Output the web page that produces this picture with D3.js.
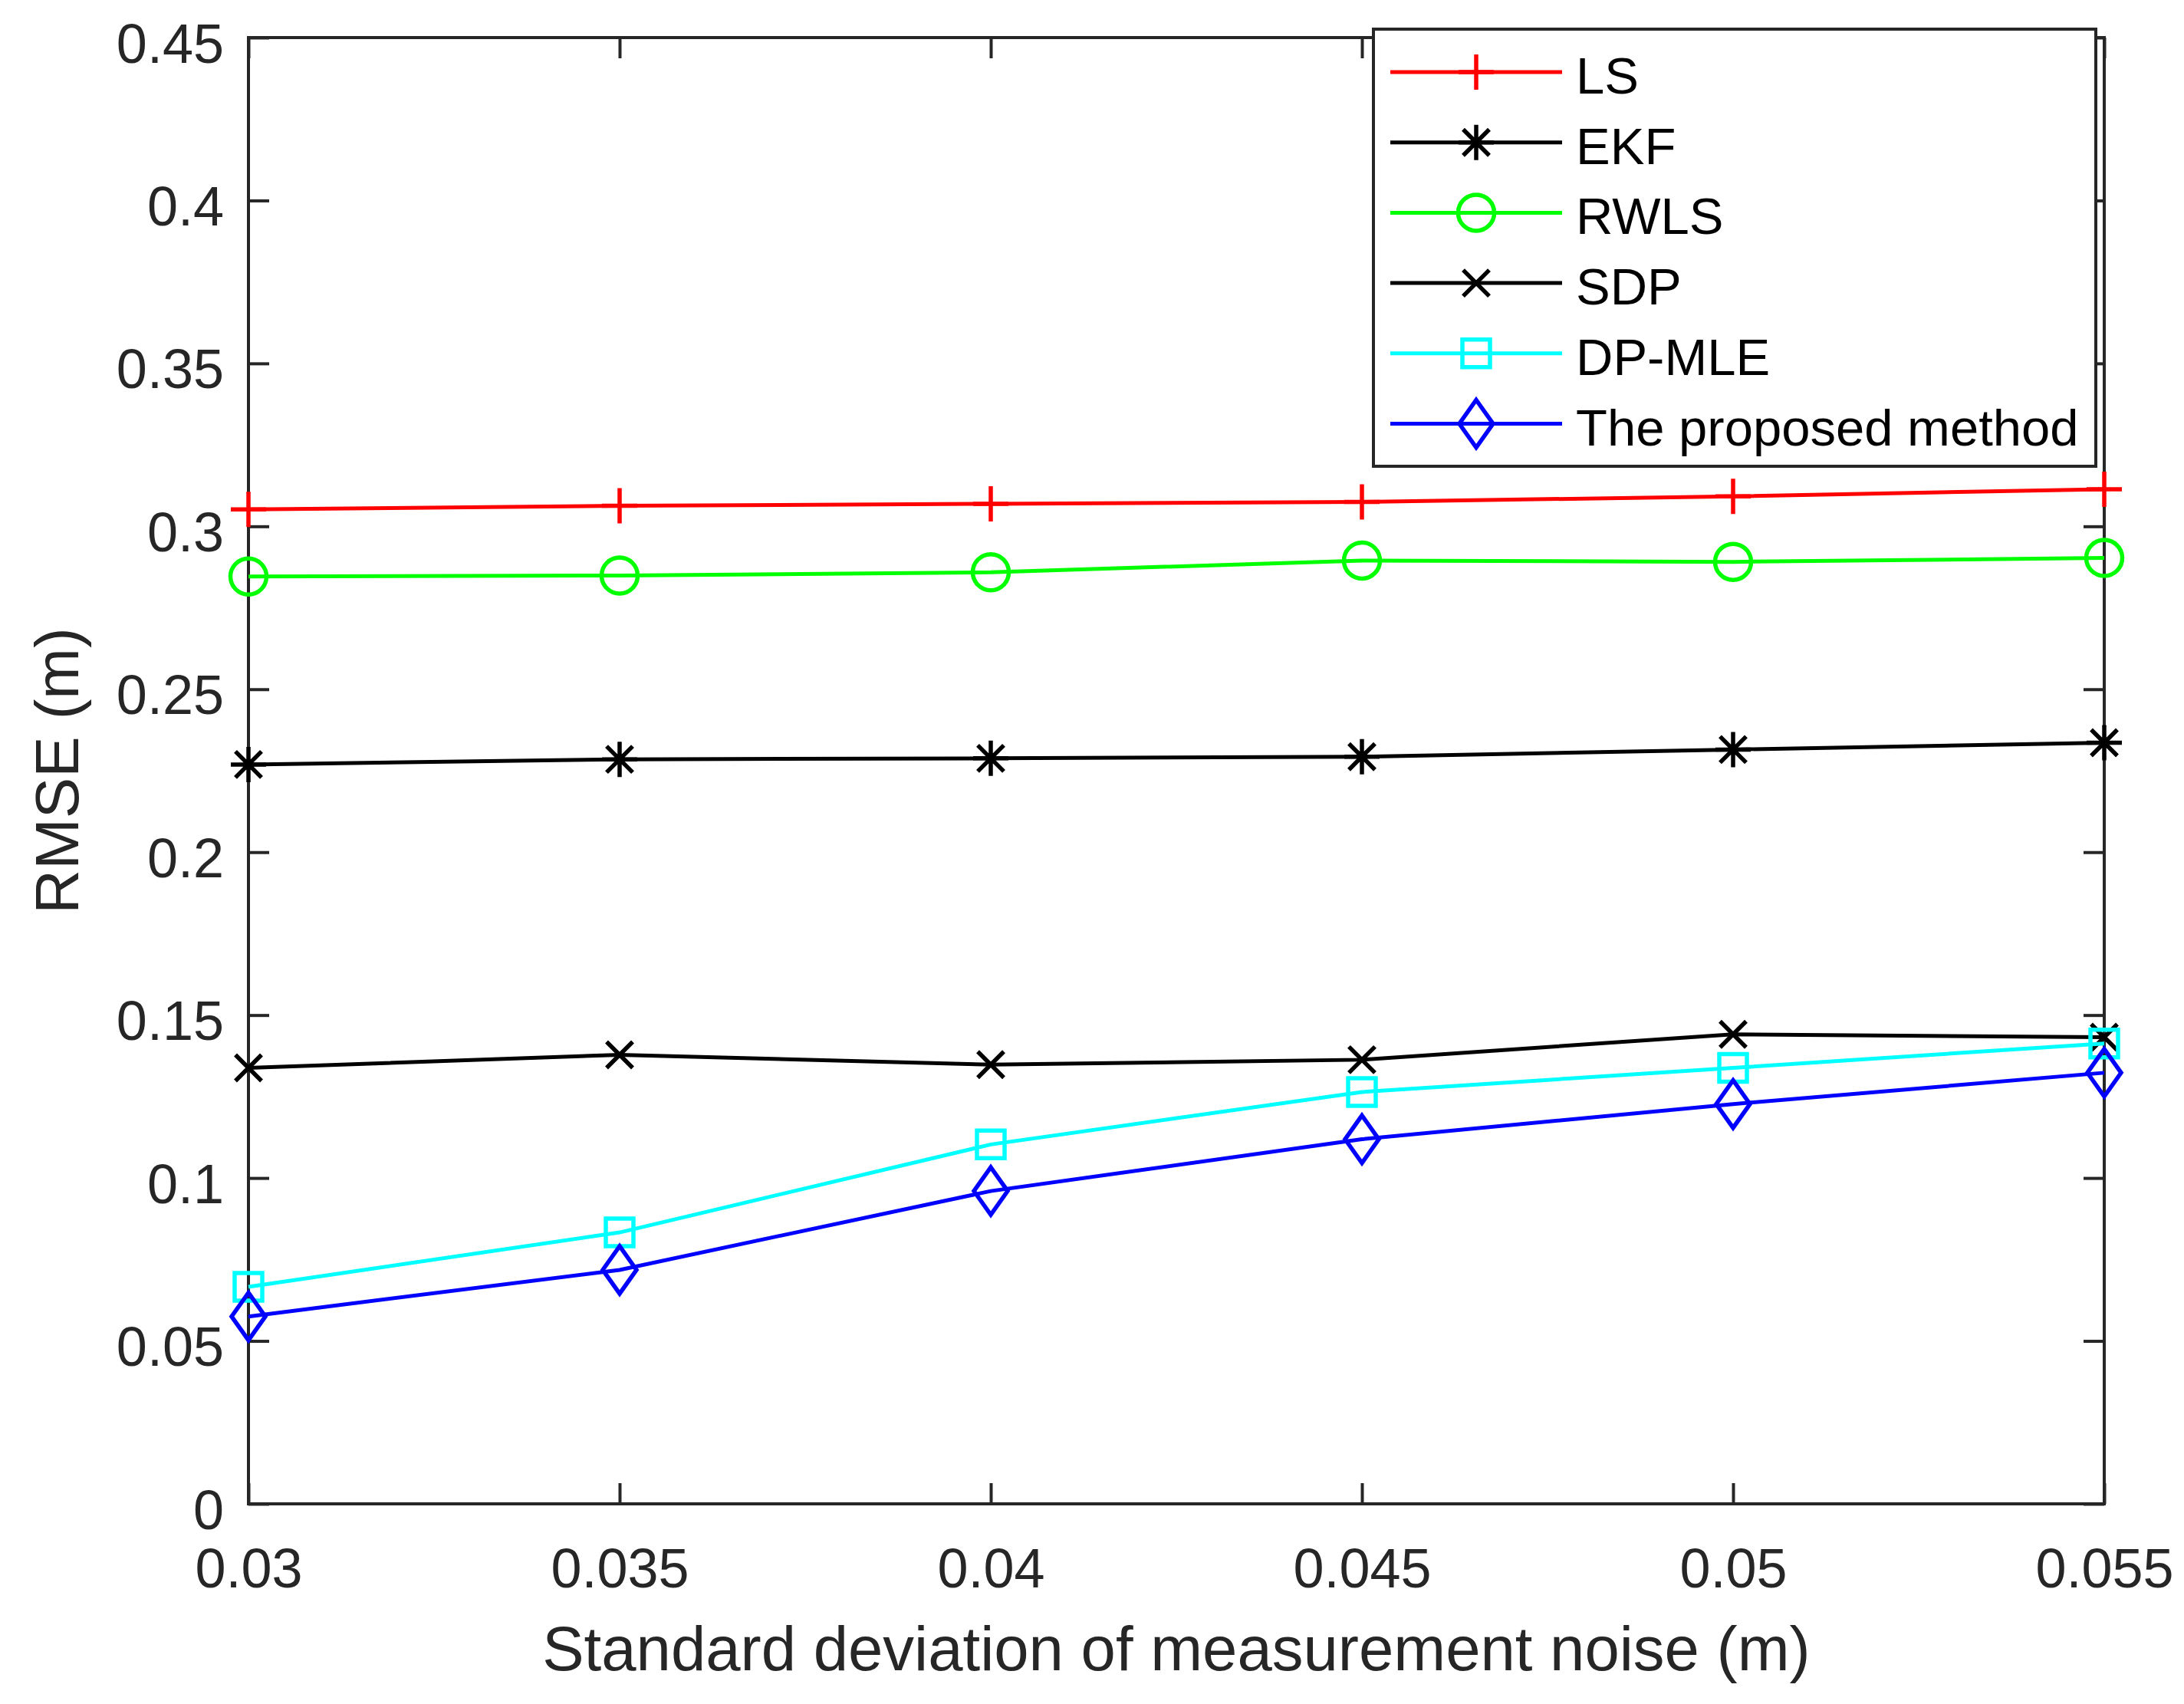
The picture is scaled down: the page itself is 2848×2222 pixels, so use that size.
<!DOCTYPE html>
<html>
<head>
<meta charset="utf-8">
<script src="https://cdn.jsdelivr.net/npm/d3@7"></script>
<style>
  body { margin: 0; background: #fff; }
  svg { display: block; font-family: "Liberation Sans", Arial, sans-serif; }
</style>
</head>
<body>
<div id="chart"></div>
<script>
// noise std (m)
const noiseStd = [0.03, 0.035, 0.04, 0.045, 0.05, 0.055];
const xTicks = [0.03, 0.035, 0.04, 0.045, 0.05, 0.055];
const yTicks = [0, 0.05, 0.1, 0.15, 0.2, 0.25, 0.3, 0.35, 0.4, 0.45];

// RMSE (m) per method
const rmseLS = [0.3052, 0.3063, 0.3069, 0.3075, 0.3092, 0.3114];
const rmseEKF = [0.2269, 0.2285, 0.2288, 0.2293, 0.2315, 0.2336];
const rmseRWLS = [0.2846, 0.2849, 0.2859, 0.2895, 0.2891, 0.2903];
const rmseSDP = [0.1338, 0.1378, 0.1348, 0.1363, 0.1441, 0.1432];
const rmseDPMLE = [0.0666, 0.0833, 0.1103, 0.1264, 0.1338, 0.1413];
const rmseProposed = [0.0575, 0.0718, 0.0960, 0.1119, 0.1227, 0.1323];

const seriesNames = ["LS", "EKF", "RWLS", "SDP", "DP-MLE", "The proposed method"];
const seriesColors = ["#ff0000", "#000000", "#00ff00", "#000000", "#00ffff", "#0000ff"];
const seriesMarkers = ["plus", "asterisk", "circle", "cross", "square", "diamond"];
const seriesValues = [rmseLS, rmseEKF, rmseRWLS, rmseSDP, rmseDPMLE, rmseProposed];

const W = 2848, H = 2222;
const plot = { left: 324, right: 2744, top: 49, bottom: 1961 };
const axisColor = "#262626";
const tickLen = 27;

const svg = d3.select("#chart").append("svg")
    .attr("width", W)
    .attr("height", H)
    .attr("viewBox", `0 0 ${W} ${H}`);

svg.append("rect").attr("width", W).attr("height", H).attr("fill", "#fff");

const x = d3.scaleLinear().domain([0.03, 0.055]).range([plot.left, plot.right]);
const y = d3.scaleLinear().domain([0, 0.45]).range([plot.bottom, plot.top]);

function styleAxis(g) {
    g.select(".domain").remove();
    g.selectAll(".tick line").attr("stroke", axisColor).attr("stroke-width", 4);
    g.selectAll(".tick text").attr("fill", axisColor).attr("font-size", 72);
}

// bottom axis with labels
svg.append("g")
    .attr("transform", `translate(0,${plot.bottom})`)
    .call(d3.axisBottom(x).tickValues(xTicks).tickSize(-tickLen).tickFormat(d => String(d)))
    .call(styleAxis)
    .call(g => g.selectAll(".tick text").attr("y", 109).attr("dy", null));

// top axis, ticks only
svg.append("g")
    .attr("transform", `translate(0,${plot.top})`)
    .call(d3.axisTop(x).tickValues(xTicks).tickSize(-tickLen).tickFormat(""))
    .call(styleAxis);

// left axis with labels
svg.append("g")
    .attr("transform", `translate(${plot.left},0)`)
    .call(d3.axisLeft(y).tickValues(yTicks).tickSize(-tickLen).tickFormat(d => String(d)))
    .call(styleAxis)
    .call(g => g.selectAll(".tick text").attr("x", -32).attr("dy", 32));

// right axis, ticks only
svg.append("g")
    .attr("transform", `translate(${plot.right},0)`)
    .call(d3.axisRight(y).tickValues(yTicks).tickSize(-tickLen).tickFormat(""))
    .call(styleAxis);

// axes box
svg.append("rect")
    .attr("x", plot.left)
    .attr("y", plot.top)
    .attr("width", plot.right - plot.left)
    .attr("height", plot.bottom - plot.top)
    .attr("fill", "none")
    .attr("stroke", axisColor)
    .attr("stroke-width", 4);

// axis labels
svg.append("text")
    .attr("x", (plot.left + plot.right) / 2)
    .attr("y", 2178)
    .attr("text-anchor", "middle")
    .attr("font-size", 81.5)
    .attr("fill", axisColor)
    .text("Standard deviation of measurement noise (m)");

svg.append("text")
    .attr("transform", `translate(102,${(plot.top + plot.bottom) / 2}) rotate(-90)`)
    .attr("text-anchor", "middle")
    .attr("font-size", 80)
    .attr("fill", axisColor)
    .text("RMSE (m)");

function markerPath(type) {
    switch (type) {
        case "plus": return "M-23,0H23M0,-23V23";
        case "asterisk": return "M-23,0H23M0,-23V23M-17,-17L17,17M-17,17L17,-17";
        case "cross": return "M-17,-17L17,17M-17,17L17,-17";
        case "square": return "M-18,-18H18V18H-18Z";
        case "diamond": return "M0,-31L22,0L0,31L-22,0Z";
    }
    return null;
}

function drawMarker(g, type, color) {
    if (type === "circle") {
        g.append("circle").attr("r", 23.5)
            .attr("fill", "none").attr("stroke", color).attr("stroke-width", 5.5);
    } else {
        g.append("path").attr("d", markerPath(type))
            .attr("fill", "none").attr("stroke", color).attr("stroke-width", 5.5)
            .attr("stroke-linejoin", "miter");
    }
}

const line = d3.line()
    .x((d, i) => x(noiseStd[i]))
    .y(d => y(d));

seriesValues.forEach((vals, s) => {
    const g = svg.append("g").attr("class", "series");
    g.append("path")
        .attr("d", line(vals))
        .attr("fill", "none")
        .attr("stroke", seriesColors[s])
        .attr("stroke-width", 5);
    vals.forEach((v, i) => {
        const m = g.append("g").attr("transform", `translate(${x(noiseStd[i])},${y(v)})`);
        drawMarker(m, seriesMarkers[s], seriesColors[s]);
    });
});

// legend
const legend = { left: 1791, top: 38, right: 2733, bottom: 608, row0: 94, rowStep: 91.7 };
const lg = svg.append("g").attr("class", "legend");
lg.append("rect")
    .attr("x", legend.left)
    .attr("y", legend.top)
    .attr("width", legend.right - legend.left)
    .attr("height", legend.bottom - legend.top)
    .attr("fill", "#fff")
    .attr("stroke", axisColor)
    .attr("stroke-width", 4);

seriesNames.forEach((name, s) => {
    const cy = legend.row0 + s * legend.rowStep;
    lg.append("line")
        .attr("x1", 1813).attr("x2", 2037)
        .attr("y1", cy).attr("y2", cy)
        .attr("stroke", seriesColors[s])
        .attr("stroke-width", 5);
    const m = lg.append("g").attr("transform", `translate(1925,${cy})`);
    drawMarker(m, seriesMarkers[s], seriesColors[s]);
    lg.append("text")
        .attr("x", 2055)
        .attr("y", cy + 28)
        .attr("font-size", 67)
        .attr("fill", "#000")
        .text(name);
});
</script>
</body>
</html>
